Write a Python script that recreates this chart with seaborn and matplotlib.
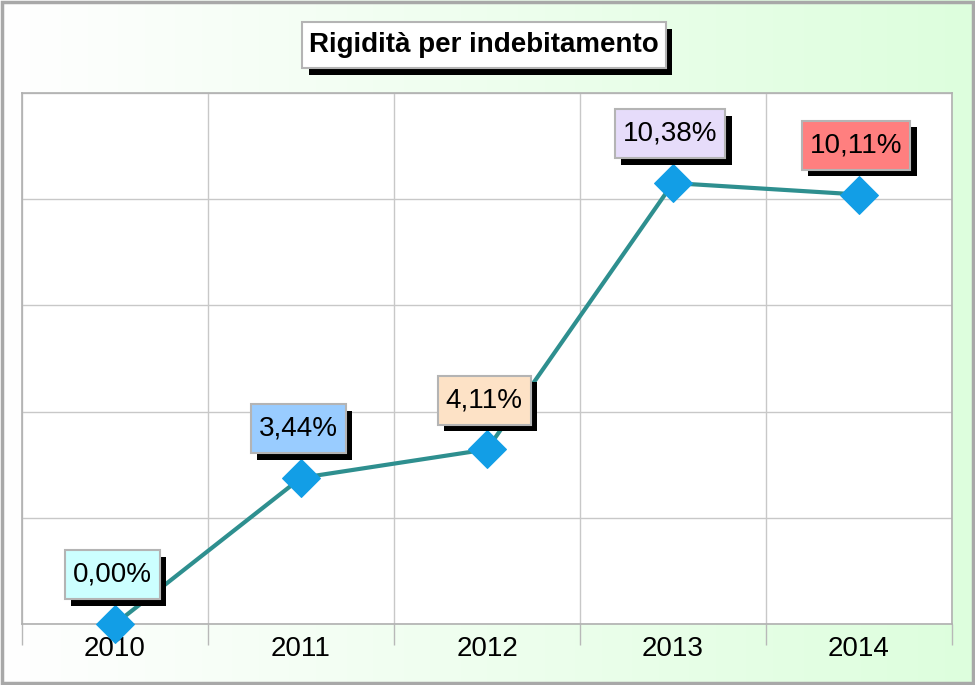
import numpy as np
import pandas as pd
import matplotlib
matplotlib.use("Agg")
import matplotlib.pyplot as plt
import matplotlib.transforms as mtransforms
from matplotlib.patches import Rectangle
from matplotlib.colors import LinearSegmentedColormap
import seaborn as sns

years = ["2010", "2011", "2012", "2013", "2014"]
values = [0.00, 3.44, 4.11, 10.38, 10.11]
labels = ["0,00%", "3,44%", "4,11%", "10,38%", "10,11%"]
label_colors = ["#ccffff", "#99ccff", "#fde2c6", "#e6dcfa", "#ff7f7f"]
title = "Rigidità per indebitamento"

plt.rcParams['font.family'] = ['Liberation Sans', 'DejaVu Sans']

fig = plt.figure(figsize=(9.75, 6.85), dpi=100)

# background gradient
bg = fig.add_axes([0, 0, 1, 1], zorder=-10)
grad = np.linspace(0, 1, 256)[None, :]
cmap = LinearSegmentedColormap.from_list("g", ["#ffffff", "#ddfedd"])
bg.imshow(grad, aspect="auto", cmap=cmap, extent=[0, 1, 0, 1])
bg.set_axis_off()
fig.patches.append(Rectangle((0.002, 0.003), 0.996, 0.994, transform=fig.transFigure,
                             fill=False, edgecolor="#a8a8a8", linewidth=2.5, zorder=5))

ax = fig.add_axes([22/975, 1-624/685, (952-22)/975, (624-93)/685])
ax.set_facecolor("white")

df = pd.DataFrame({"year": years, "value": values})
sns.lineplot(data=df, x="year", y="value", ax=ax, color="#2e8f8f", linewidth=3,
             marker="D", markersize=19, markerfacecolor="#129ee6",
             markeredgecolor="#129ee6", clip_on=False, zorder=5)

ax.set_xlim(-0.5, 4.5)
ax.set_ylim(0, 12.5)
ax.set_yticks(np.arange(0, 12.6, 2.5))
ax.set_yticklabels([])
ax.tick_params(axis="y", length=0)
ax.set_xticks(range(len(years)))
ax.set_xticklabels(years, fontsize=20)
ax.tick_params(axis="x", which="major", length=0, pad=9)
ax.set_xticks(np.arange(-0.5, 5, 1), minor=True)
ax.tick_params(axis="x", which="minor", length=15, width=1, color="#b8b8b8", direction="out")
ax.grid(True, axis="y", color="#c8c8c8", linewidth=1)
ax.grid(True, axis="x", which="minor", color="#c8c8c8", linewidth=1)
ax.set_axisbelow(True)
ax.set_xlabel("")
ax.set_ylabel("")
for s in ax.spines.values():
    s.set_color("#b0b0b0")
    s.set_linewidth(1.2)

label_texts = []
for i, (v, lab) in enumerate(zip(values, labels)):
    t = ax.annotate(lab, xy=(i, v), xytext=(-2, 35.5), textcoords="offset points",
                    ha="center", va="center", fontsize=20, color="black", zorder=8)
    label_texts.append(t)

tx, ty = 484/975, 1-45/685
title_text = fig.text(tx, ty, title, ha="center", va="center", fontsize=20,
                      fontweight="bold", color="black", zorder=10)

fig.canvas.draw()
renderer = fig.canvas.get_renderer()
ident = mtransforms.IdentityTransform()
SH = 6.5


def add_box(container, text_artist, face, padx, height, z):
    bb = text_artist.get_window_extent(renderer)
    cx = (bb.x0 + bb.x1) / 2
    cy = (bb.y0 + bb.y1) / 2
    w = bb.width + 2 * padx
    x0 = cx - w / 2
    y0 = cy - height / 2
    shadow = Rectangle((x0 + SH, y0 - SH), w, height, transform=ident,
                       facecolor="black", edgecolor="none", zorder=z)
    box = Rectangle((x0, y0), w, height, transform=ident,
                    facecolor=face, edgecolor="#b4b4b4", linewidth=1.5, zorder=z + 0.5)
    for p in (shadow, box):
        p.set_clip_on(False)
        container.add_artist(p) if container is ax else fig.patches.append(p)


for t, c in zip(label_texts, label_colors):
    add_box(ax, t, c, 8, 49, 6)
add_box(fig, title_text, "white", 7, 46, 8)

fig.savefig("out.png", dpi=100)
